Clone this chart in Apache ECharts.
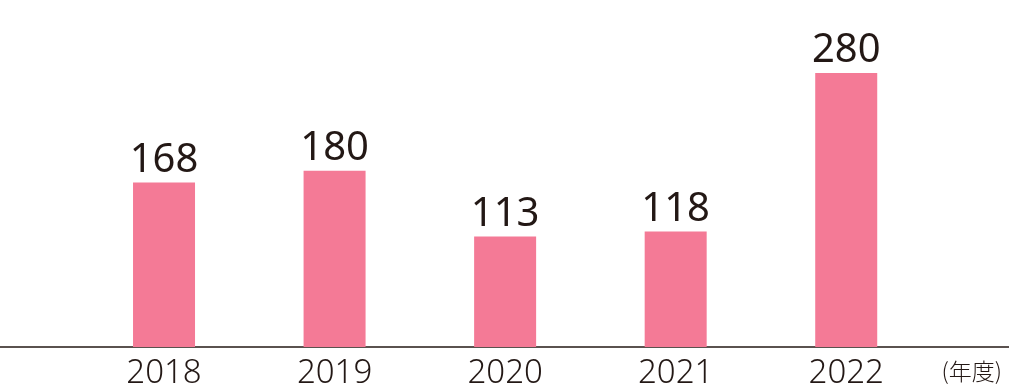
<!DOCTYPE html>
<html><head><meta charset="utf-8">
<script src="https://cdn.jsdelivr.net/npm/echarts@6/dist/echarts.min.js"></script>
<style>html,body{margin:0;padding:0;background:#fff}#c{width:1009px;height:390px}</style>
</head><body><div id="c"></div>
<script>
var categories = ['2018','2019','2020','2021','2022'];
var values = [168, 180, 113, 118, 280];
var unitLabel = '(年度)';

var chart = echarts.init(document.getElementById('c'));
chart.setOption({
  animation: false,
  grid: [
    {left: 78.75, right: 77.5, top: 53.4, bottom: 43},
    {left: 0, right: 0, top: 53.4, bottom: 43}
  ],
  title: {
    text: unitLabel, right: 2, bottom: 2,
    textStyle: {fontFamily: 'Noto Sans CJK JP', fontSize: 23, fontWeight: 300, color: '#231815'}
  },
  xAxis: [
    {type: 'category', gridIndex: 0, data: categories,
     axisLine: {show: false}, axisTick: {show: false},
     axisLabel: {margin: 10, fontFamily: 'Noto Sans', fontSize: 33, fontWeight: 300, color: '#231815'}},
    {type: 'value', gridIndex: 1, min: 0, max: 1, splitLine: {show: false},
     axisLine: {show: true, onZero: false, lineStyle: {color: '#231815', width: 1.5}},
     axisTick: {show: false}, axisLabel: {show: false}}
  ],
  yAxis: [
    {type: 'value', gridIndex: 0, min: 0, max: 300, show: false},
    {type: 'value', gridIndex: 1, min: 0, max: 1, show: false}
  ],
  series: [{
    type: 'bar', xAxisIndex: 0, yAxisIndex: 0, data: values,
    barWidth: 62,
    itemStyle: {color: '#F47A96'},
    label: {show: true, position: 'top', distance: 2,
      fontFamily: 'Noto Sans', fontSize: 40, color: '#231815'}
  }]
});
</script></body></html>
